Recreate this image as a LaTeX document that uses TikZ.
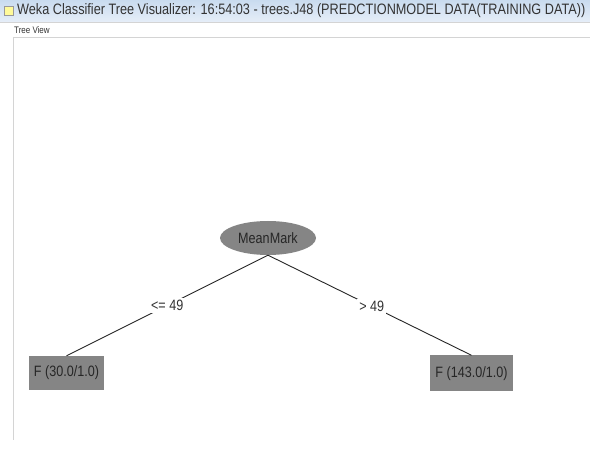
\documentclass[tikz,border=0pt]{standalone}
\usepackage{fontspec}
\setmainfont{Liberation Sans}[FakeStretch=0.84]
\usetikzlibrary{shapes.geometric}
\definecolor{nodegray}{HTML}{858585}
\definecolor{bartop}{HTML}{C9DBEF}
\definecolor{barbot}{HTML}{E6EEF8}
\definecolor{frame}{HTML}{D4D4D4}
\tikzset{
  treenode/.style={fill=nodegray, draw=none, text=black!85, font=\fontsize{15}{16}\selectfont, inner sep=0pt},
  edge/.style={draw=black!85, line width=0.9pt},
  elabel/.style={fill=white, text=black!80, font=\fontsize{15}{16}\selectfont, inner sep=2pt},
}
\begin{document}
\begin{tikzpicture}[x=1pt,y=-1pt]
\useasboundingbox (0,0) rectangle (590,454);
\fill[white] (0,0) rectangle (590,454);
% title bar
\shade[top color=bartop, bottom color=barbot] (0,0) rectangle (590,22);
\draw[frame] (0,22) -- (590,22);
\node[draw=black!40, fill=yellow!40, minimum width=9pt, minimum height=9pt, inner sep=0pt] (icon) at (9,11) {};
\node[anchor=west, inner sep=0pt, text=black!80, font=\fontsize{15.1}{16}\selectfont] (title) at (17,11) {Weka Classifier Tree Visualizer: 16:54:03 - trees.J48 (PREDCTIONMODEL DATA(TRAINING DATA))};
% panel
\node[anchor=west, inner sep=0pt, text=black!80, font=\fontsize{9.5}{11}\selectfont] (tv) at (14,30) {Tree View};
\draw[frame] (13,37) -- (590,37);
\draw[frame] (13,37) -- (13,440);
% tree
\node[treenode, ellipse, minimum width=96pt, minimum height=34pt] (root) at (268,238) {MeanMark};
\node[treenode, rectangle, minimum width=75pt, minimum height=34pt] (left) at (66.5,373) {F (30.0/1.0)};
\node[treenode, rectangle, minimum width=83pt, minimum height=36pt] (right) at (471.5,373.5) {F (143.0/1.0)};
\draw[edge] (root.south) -- node[elabel, pos=0.5] (l1) {<= 49} (left.north);
\draw[edge] (root.south) -- node[elabel, pos=0.51] (l2) {> 49} (right.north);
\end{tikzpicture}
\end{document}
